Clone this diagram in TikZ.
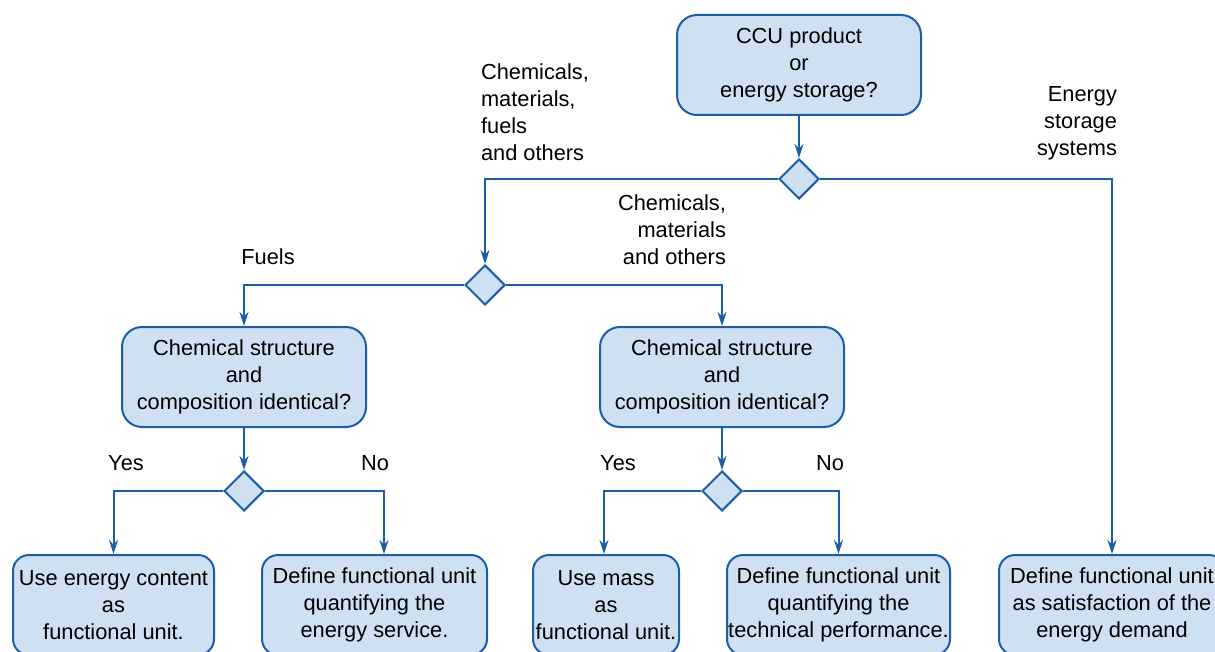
\documentclass[tikz,border=0pt]{standalone}
\usepackage{fontspec}
\setmainfont{Liberation Sans}
\usetikzlibrary{shapes.geometric,arrows.meta}
\definecolor{boxfill}{RGB}{207,224,242}
\definecolor{boxline}{RGB}{26,94,170}
\tikzset{
    question/.style={draw=boxline,fill=boxfill,line width=1pt,rounded corners=10pt,
        align=center,minimum width=122pt,minimum height=50pt,inner sep=1pt},
    result/.style={draw=boxline,fill=boxfill,line width=1pt,rounded corners=8pt,
        align=center,minimum height=50pt,inner sep=0.5pt},
    decision/.style={draw=boxline,fill=boxfill,line width=1pt,diamond,
        minimum width=20pt,minimum height=20pt,inner sep=0pt},
    flow/.style={draw=boxline,line width=1pt,-{Stealth[length=7pt,width=4.5pt]}},
    tag/.style={font=\fontsize{10.9}{13.5}\selectfont}
}
\begin{document}
\begin{tikzpicture}[x=0.5pt,y=-0.5pt,font=\fontsize{10.9}{13.5}\selectfont]
    \useasboundingbox (0,0) rectangle (1215,652);
    % top question
    \node[question] (ccu) at (799,65) {CCU product\\or\\energy storage?};
    \node[decision] (dtop) at (799,179) {};
    % second level
    \node[decision] (dprod) at (485,285) {};
    \node[question] (fuelq) at (244,377) {Chemical structure\\and\\composition identical?};
    \node[question] (chemq) at (722,377) {Chemical structure\\and\\composition identical?};
    \node[decision] (dfuel) at (244,491) {};
    \node[decision] (dchem) at (722,491) {};
    % results
    \node[result,minimum width=100.5pt] (energy) at (113.5,605) {Use energy content\\as\\functional unit.};
    \node[result,minimum width=112.5pt] (service) at (374.5,605) {Define functional unit\\quantifying the\\energy service.};
    \node[result,minimum width=73pt] (mass) at (606,605) {Use mass\\as\\functional unit.};
    \node[result,minimum width=111.5pt] (perf) at (838.5,605) {Define functional unit\\quantifying the\\technical performance.};
    \node[result,minimum width=113pt] (demand) at (1112,605) {Define functional unit\\as satisfaction of the\\energy demand};
    % branch labels
    \node[tag,align=left,anchor=north west] (lprod) at (474,57) {Chemicals,\\materials,\\fuels\\and others};
    \node[tag,align=right,anchor=north east] (lstore) at (1124,79) {Energy\\storage\\systems};
    \node[tag] (lfuel) at (268,257) {Fuels};
    \node[tag,align=right,anchor=north east] (lchem) at (733,188) {Chemicals,\\materials\\and others};
    \node[tag] (yes1) at (126,463) {Yes};
    \node[tag] (no1) at (375,463) {No};
    \node[tag] (yes2) at (618,463) {Yes};
    \node[tag] (no2) at (830,463) {No};
    % connectors
    \draw[flow] (ccu) -- (dtop);
    \draw[flow] (dtop.west) -| (dprod.north);
    \draw[flow] (dtop.east) -| (demand.north);
    \draw[flow] (dprod.west) -| (fuelq.north);
    \draw[flow] (dprod.east) -| (chemq.north);
    \draw[flow] (fuelq) -- (dfuel);
    \draw[flow] (chemq) -- (dchem);
    \draw[flow] (dfuel.west) -| (energy.north);
    \draw[flow] (dfuel.east) -| ([xshift=4.75pt]service.north);
    \draw[flow] (dchem.west) -| ([xshift=-1pt]mass.north);
    \draw[flow] (dchem.east) -| (perf.north);
\end{tikzpicture}
\end{document}
